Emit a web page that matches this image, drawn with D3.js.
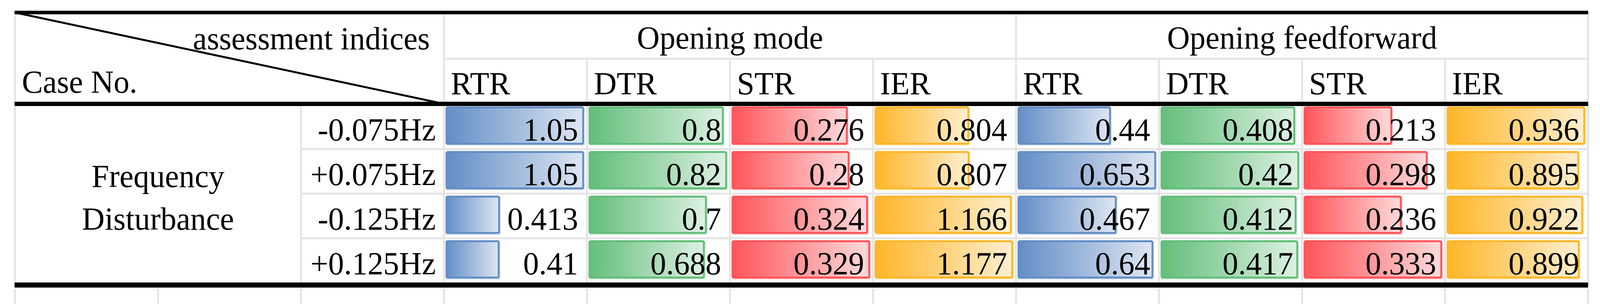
<!DOCTYPE html>
<html>
<head>
<meta charset="utf-8">
<script src="https://cdn.jsdelivr.net/npm/d3@7"></script>
<style>
  html, body { margin: 0; padding: 0; background: #fff; width: 100%; height: 100%; overflow: hidden; }
  svg { display: block; width: 100vw; height: 100vh; }
  text { font-family: "Liberation Serif", "Times New Roman", serif; fill: #000; }
</style>
</head>
<body>
<svg id="chart" viewBox="0 0 4168 777" preserveAspectRatio="none"></svg>
<script>
// ---------------- data ----------------
const caseLabels = ["-0.075Hz", "+0.075Hz", "-0.125Hz", "+0.125Hz"];
const groupLabelLines = ["Frequency", "Disturbance"];
const modeLabels = ["Opening mode", "Opening feedforward"];
const indexLabels = ["RTR", "DTR", "STR", "IER"];
const cornerTop = "assessment indices";
const cornerBottom = "Case No.";
// rows = cases, columns = RTR, DTR, STR, IER
const openingModeValues = [
  [1.05, 0.8, 0.276, 0.804],
  [1.05, 0.82, 0.28, 0.807],
  [0.413, 0.7, 0.324, 1.166],
  [0.41, 0.688, 0.329, 1.177]
];
const feedforwardValues = [
  [0.44, 0.408, 0.213, 0.936],
  [0.653, 0.42, 0.298, 0.895],
  [0.467, 0.412, 0.236, 0.922],
  [0.64, 0.417, 0.333, 0.899]
];
const indexColors = ["#638EC6", "#63BE7B", "#FF555A", "#FFB628"];

// ---------------- layout ----------------
const svg = d3.select("#chart");
const FS = 82;
const GRID = "#E4E4E4";
const nCols = 11;
const x = d3.scaleBand().domain(d3.range(nCols)).range([39, 4137]).paddingInner(0).paddingOuter(0);
const cw = x.bandwidth();
const xl = i => (i >= nCols ? x.range()[1] : x(i));
const y = d3.scaleBand().domain(caseLabels).range([267, 723]);
const rowB = i => (i >= caseLabels.length ? y.range()[1] : y(caseLabels[i]));
const headTop = 32, headMid = 150, headBot = 265.5, tableBot = 728.5;

// gradients
const defs = svg.append("defs");
indexColors.forEach((c, i) => {
  const g = defs.append("linearGradient").attr("id", "grad" + i)
    .attr("x1", 0).attr("x2", 1).attr("y1", 0).attr("y2", 0);
  g.append("stop").attr("offset", "0%").attr("stop-color", c);
  g.append("stop").attr("offset", "100%").attr("stop-color", d3.interpolateRgb(c, "#fff")(0.78));
});

const grid = svg.append("g").attr("stroke", GRID).attr("stroke-width", 5);
function vline(xx, y1, y2) { grid.append("line").attr("x1", xx).attr("x2", xx).attr("y1", y1).attr("y2", y2); }
function hline(y0, x1, x2) { grid.append("line").attr("x1", x1).attr("x2", x2).attr("y1", y0).attr("y2", y0); }

// header grid
vline(xl(0), headTop, headBot);
[3, 7, 11].forEach(i => vline(xl(i), headTop, headBot));
[4, 5, 6, 8, 9, 10].forEach(i => vline(xl(i), headMid, headBot));
hline(headMid, xl(3), xl(11));
// body grid
[0, 2, 3, 4, 5, 6, 7, 8, 9, 10, 11].forEach(i => vline(xl(i), headBot, tableBot));
[1, 2, 3].forEach(r => hline(rowB(r), xl(2), xl(11)));
// extra empty row below
d3.range(nCols + 1).forEach(i => vline(xl(i), 738, 777));

// data bars
const allModes = [openingModeValues, feedforwardValues];
const bars = svg.append("g");
allModes.forEach((vals, m) => {
  indexLabels.forEach((lab, k) => {
    const col = 3 + m * 4 + k;
    const colVals = vals.map(r => r[k]);
    const w = d3.scaleLinear().domain([0, d3.max(colVals)]).range([0, cw - 11.5]);
    caseLabels.forEach((cl, r) => {
      const v = vals[r][k];
      const bx = xl(col) + 4, by = y(cl) + 5, bw = w(v), bh = 98;
      // soft shadow
      bars.append("rect").attr("x", bx + 2).attr("y", by + 3).attr("width", bw).attr("height", bh)
        .attr("fill", d3.interpolateRgb(indexColors[k], "#fff")(0.8)).attr("rx", 3);
      bars.append("rect").attr("x", bx + 2.5).attr("y", by + 2.5).attr("width", Math.max(0, bw - 5)).attr("height", bh - 5)
        .attr("fill", "url(#grad" + k + ")").attr("stroke", indexColors[k]).attr("stroke-width", 5).attr("rx", 3);
      bars.append("text").attr("x", xl(col + 1) - 23).attr("y", y(cl) + 92)
        .attr("text-anchor", "end").attr("font-size", FS).text(v);
    });
  });
});

// case labels
caseLabels.forEach(cl => {
  svg.append("text").attr("x", xl(3) - 21.5).attr("y", y(cl) + 92)
    .attr("text-anchor", "end").attr("font-size", FS).text(cl);
});
// group label
const gcx = (xl(0) + xl(2)) / 2;
const gcy = (y.range()[0] + y.range()[1]) / 2;
groupLabelLines.forEach((t, i) => {
  svg.append("text").attr("x", gcx).attr("y", gcy - 17 + i * 109)
    .attr("text-anchor", "middle").attr("font-size", FS).text(t);
});

// header texts
modeLabels.forEach((t, m) => {
  svg.append("text").attr("x", (xl(3 + m * 4) + xl(7 + m * 4)) / 2).attr("y", 124)
    .attr("text-anchor", "middle").attr("font-size", FS).text(t);
  indexLabels.forEach((lab, k) => {
    svg.append("text").attr("x", xl(3 + m * 4 + k) + 18).attr("y", 241)
      .attr("font-size", FS).text(lab);
  });
});
svg.append("text").attr("x", xl(3) - 37).attr("y", 126).attr("text-anchor", "end").attr("font-size", FS).text(cornerTop);
svg.append("text").attr("x", xl(0) + 18).attr("y", 237).attr("font-size", FS).text(cornerBottom);

// diagonal
svg.append("line").attr("x1", xl(0)).attr("y1", headTop).attr("x2", xl(3)).attr("y2", headBot)
  .attr("stroke", "#000").attr("stroke-width", 5);

// thick rules
const rules = svg.append("g").attr("stroke", "#000");
rules.append("line").attr("x1", xl(0) - 1).attr("x2", xl(11)).attr("y1", headTop).attr("y2", headTop).attr("stroke-width", 9);
rules.append("line").attr("x1", xl(0) - 1).attr("x2", xl(11)).attr("y1", headBot).attr("y2", headBot).attr("stroke-width", 11);
rules.append("line").attr("x1", xl(0) - 1).attr("x2", xl(11)).attr("y1", tableBot).attr("y2", tableBot).attr("stroke-width", 13);
</script>
</body>
</html>
